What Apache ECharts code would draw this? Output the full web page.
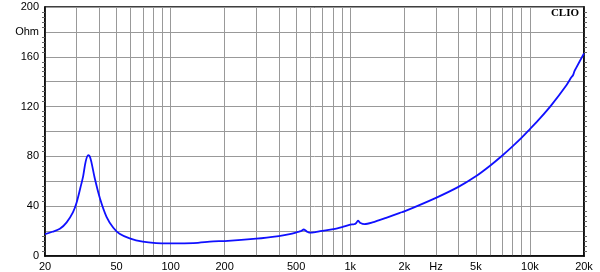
<!DOCTYPE html>
<html><head><meta charset="utf-8">
<script src="https://cdn.jsdelivr.net/npm/echarts@6/dist/echarts.min.js"></script>
<style>html,body{margin:0;padding:0;background:#fff}#c{width:600px;height:272px}</style>
</head><body><div id="c"></div>
<script>
const freqHz = [20, 22, 24.2, 26.4, 28.6, 30, 31.5, 32.6, 33.7, 34.8, 35.5, 36.3, 37.9, 40.5, 44, 48, 52, 59.2, 70, 83, 100, 134, 173, 200, 300, 400, 460, 511, 530, 552, 575, 593, 640, 680, 806, 913, 1000, 1050, 1080, 1104, 1140, 1200, 1330, 1584, 1890, 2000, 3000, 4000, 5000, 6000, 7000, 8000, 9000, 10000, 11370, 13200, 16000, 17000, 17400, 17700, 18000, 20000];
const impedanceOhm = [17.5, 19.5, 21.8, 27, 35, 43, 55, 64, 76, 81, 80, 75, 62, 46, 31.5, 22.7, 17.9, 14.2, 11.5, 10.4, 10.2, 10.4, 11.8, 12, 13.9, 16, 17.5, 19.3, 20, 21.3, 19.5, 18.7, 19.2, 20, 21.6, 23.5, 25.2, 25.5, 26.5, 28.3, 26.5, 25.6, 27, 30.7, 34.7, 35.8, 46.7, 55.5, 64, 72.5, 80.5, 88, 95, 101.9, 110.5, 121.4, 137.4, 143.5, 145.4, 148.5, 150.5, 162.7];
const gridFreqs = [20,30,40,50,60,70,80,90,100,200,300,400,500,600,700,800,900,1000,2000,3000,4000,5000,6000,7000,8000,9000,10000,20000];
const labelFreqs = [20,50,100,200,500,1000,2000,3000,5000,10000,20000];
const labelText = {20:'20',50:'50',100:'100',200:'200',500:'500',1000:'1k',2000:'2k',3000:'Hz',5000:'5k',10000:'10k',20000:'20k'};
const yLabels = {0:'0',40:'40',80:'80',120:'120',160:'160',180:'Ohm',200:'200'};

const chart = echarts.init(document.getElementById('c'), null, {renderer:'canvas'});
const font = 'Liberation Sans, Arial, sans-serif';
chart.setOption({
  animation:false,
  backgroundColor:'#fff',
  title:{text:'CLIO', right:16, top:3, textStyle:{fontFamily:'Liberation Serif, serif', fontWeight:'bold', fontSize:11, color:'#000'}},
  grid:{left:45, right:16, top:7, bottom:15, show:true, borderColor:'#000', borderWidth:1.5, containLabel:false},
  xAxis:{type:'log', logBase:10, min:20, max:20000,
    axisLine:{show:true, lineStyle:{color:'#000', width:1.5}},
    axisTick:{show:false, customValues:gridFreqs},
    splitLine:{show:true, lineStyle:{color:'#999', width:1}},
    minorSplitLine:{show:false},
    axisLabel:{customValues:labelFreqs, formatter:v=>labelText[Math.round(v)]||'', fontFamily:font, fontSize:11, color:'#000', margin:5}
  },
  yAxis:[{type:'value', min:0, max:200, interval:20,
    axisLine:{show:true, lineStyle:{color:'#000', width:1.5}},
    axisTick:{show:false},
    minorTick:{show:true, splitNumber:5, length:3, lineStyle:{color:'#666'}},
    splitLine:{show:true, lineStyle:{color:'#999', width:1}},
    axisLabel:{formatter:v=>yLabels[v]||'', fontFamily:font, fontSize:11, color:'#000', margin:6}
  },{type:'value', min:0, max:200, interval:20, position:'right',
    axisLine:{show:true, lineStyle:{color:'#000', width:1.5}},
    axisTick:{show:false},
    minorTick:{show:true, splitNumber:5, length:3, lineStyle:{color:'#666'}},
    splitLine:{show:false}, axisLabel:{show:false}
  }],
  series:[{type:'line', data:freqHz.map((f,i)=>[f, impedanceOhm[i]]), showSymbol:false, smooth:0.3,
    lineStyle:{color:'#1010ff', width:1.8}, z:5}]
});
</script></body></html>
